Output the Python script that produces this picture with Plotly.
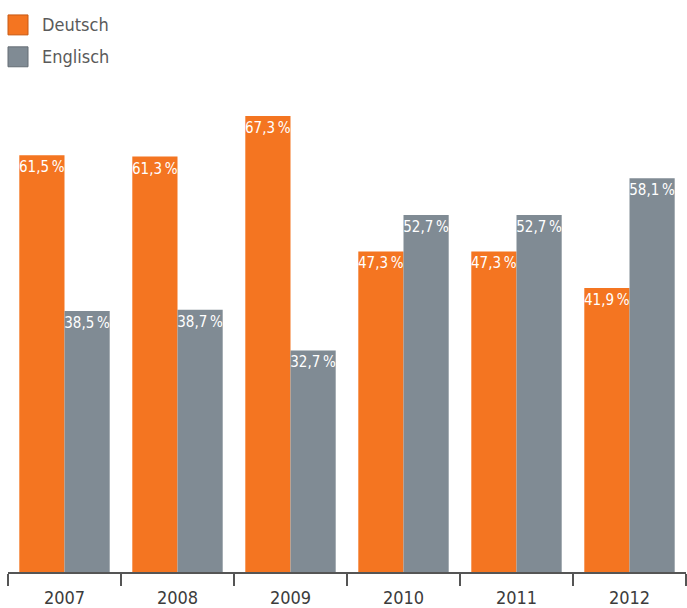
import plotly.graph_objects as go

years = ["2007", "2008", "2009", "2010", "2011", "2012"]
deutsch = [61.5, 61.3, 67.3, 47.3, 47.3, 41.9]
englisch = [38.5, 38.7, 32.7, 52.7, 52.7, 58.1]
series_names = ["Deutsch", "Englisch"]
colors = ["#F47521", "#808B94"]
border_colors = ["#C85A14", "#646D75"]

FONT = "DejaVu Sans Condensed, Liberation Sans Narrow, sans-serif"
W, H = 687, 608
MT, MB = 0, 34
plot_h = H - MT - MB


def fmt(v):
    return f"{v:.1f}".replace(".", ",") + "\u2009%"


fig = go.Figure()
for name, vals, col in zip(series_names, [deutsch, englisch], colors):
    fig.add_trace(go.Bar(
        x=years, y=vals, name=name,
        marker=dict(color=col, line=dict(width=0)),
        text=[fmt(v) for v in vals],
        textposition="inside", insidetextanchor="end", textangle=0,
        constraintext="none", cliponaxis=False,
        textfont=dict(family=FONT, size=15, color="white"),
        hoverinfo="skip",
    ))


def py(p):
    return 1 - (p - MT) / plot_h


shapes = []
annotations = []
legend_rows = [(15, 35), (47, 67)]
for (y0, y1), name, col, bc in zip(legend_rows, series_names, colors, border_colors):
    shapes.append(dict(type="rect", xref="paper", yref="paper",
                       x0=0, x1=20 / 678, y0=py(y1), y1=py(y0),
                       fillcolor=col, line=dict(color=bc, width=1)))
    annotations.append(dict(xref="paper", yref="paper", x=32 / 678, y=py((y0 + y1) / 2),
                            text=name, showarrow=False, xanchor="left", yanchor="middle",
                            font=dict(family=FONT, size=18, color="#5A5A5A")))

fig.update_layout(
    width=W, height=H,
    margin=dict(l=8, r=1, t=MT, b=MB),
    barmode="group", bargap=0.2, bargroupgap=0,
    showlegend=False,
    plot_bgcolor="white", paper_bgcolor="white",
    shapes=shapes, annotations=annotations,
    xaxis=dict(showline=True, linecolor="#555555", linewidth=1.5,
               ticks="outside", tickson="boundaries", ticklen=12,
               tickcolor="#555555", tickwidth=1.5,
               tickfont=dict(family=FONT, size=18, color="#3C3C3C"),
               ticklabelstandoff=9,
               showgrid=False, zeroline=False),
    yaxis=dict(range=[0, plot_h / 6.8], visible=False, showgrid=False, zeroline=False),
)

fig.write_html("out.html", config={"displayModeBar": False},
               post_script="document.body.style.margin='0';document.body.style.padding='0';")
